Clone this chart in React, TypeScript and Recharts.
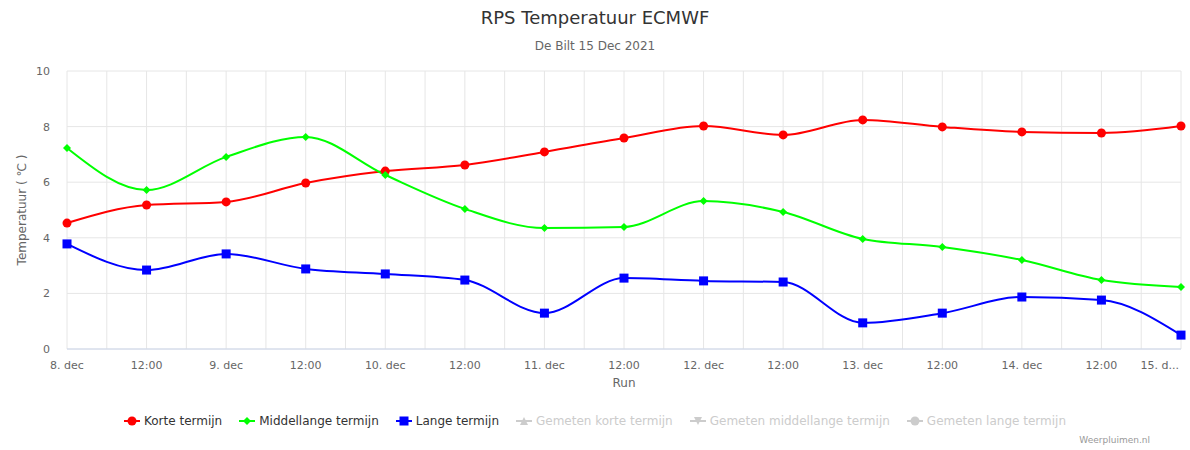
import React from 'react'
import { LineChart, Line, XAxis, YAxis, CartesianGrid } from 'recharts'

// one run every 12 hours, 8 dec 00:00 .. 15 dec 00:00
const runs = [0, 1, 2, 3, 4, 5, 6, 7, 8, 9, 10, 11, 12, 13, 14]
const xLabels = [
  '8. dec', '12:00', '9. dec', '12:00', '10. dec', '12:00', '11. dec', '12:00',
  '12. dec', '12:00', '13. dec', '12:00', '14. dec', '12:00', '15. d...',
]
const korte = [4.53, 5.18, 5.29, 5.97, 6.4, 6.62, 7.09, 7.59, 8.02, 7.7, 8.24, 7.99, 7.81, 7.77, 8.02]
const middellange = [7.23, 5.72, 6.91, 7.63, 6.26, 5.04, 4.35, 4.39, 5.32, 4.93, 3.96, 3.67, 3.2, 2.48, 2.23]
const lange = [3.78, 2.84, 3.42, 2.88, 2.7, 2.48, 1.29, 2.55, 2.45, 2.41, 0.94, 1.29, 1.87, 1.76, 0.5]
const yTicks = [0, 2, 4, 6, 8, 10]
const xTicks = [
  0, 0.5, 1, 1.5, 2, 2.5, 3, 3.5, 4, 4.5, 5, 5.5, 6, 6.5, 7,
  7.5, 8, 8.5, 9, 9.5, 10, 10.5, 11, 11.5, 12, 12.5, 13, 13.5, 14,
]

const legendItems = [
  { name: 'Korte termijn', color: '#ff0000', marker: 'circle', hidden: false },
  { name: 'Middellange termijn', color: '#00ff00', marker: 'diamond', hidden: false },
  { name: 'Lange termijn', color: '#0000ff', marker: 'square', hidden: false },
  { name: 'Gemeten korte termijn', color: '#cccccc', marker: 'triangle', hidden: true },
  { name: 'Gemeten middellange termijn', color: '#cccccc', marker: 'triangle-down', hidden: true },
  { name: 'Gemeten lange termijn', color: '#cccccc', marker: 'circle', hidden: true },
]

const data = runs.map((x, i) => ({
  x,
  korte: korte[i],
  middellange: middellange[i],
  lange: lange[i],
}))

const FONT = '"DejaVu Sans", Verdana, sans-serif'

function markerShape(type: string, cx: number, cy: number, color: string, key?: string) {
  if (type === 'circle') return <circle key={key} cx={cx} cy={cy} r={4.5} fill={color} />
  if (type === 'diamond')
    return <path key={key} d={`M${cx} ${cy - 4}L${cx + 4} ${cy}L${cx} ${cy + 4}L${cx - 4} ${cy}Z`} fill={color} />
  if (type === 'square') return <rect key={key} x={cx - 4.5} y={cy - 4.5} width={9} height={9} fill={color} />
  if (type === 'triangle')
    return <path key={key} d={`M${cx} ${cy - 4}L${cx + 4} ${cy + 4}L${cx - 4} ${cy + 4}Z`} fill={color} />
  return <path key={key} d={`M${cx - 4} ${cy - 4}L${cx + 4} ${cy - 4}L${cx} ${cy + 4}Z`} fill={color} />
}

const makeDot = (type: string, color: string) => (props: any) =>
  markerShape(type, props.cx, props.cy, color, `${type}-${props.index}`)

function XTick(props: any) {
  const { x, y, payload } = props
  const v = payload.value
  if (!Number.isInteger(v)) return <g />
  const last = v === runs[runs.length - 1]
  return (
    <text
      x={last ? x - 2 : x}
      y={y + 20}
      textAnchor={last ? 'end' : 'middle'}
      fill="#666666"
      fontSize={11}
      fontFamily={FONT}
    >
      {xLabels[v]}
    </text>
  )
}

function Legend() {
  return (
    <div
      style={{
        position: 'absolute',
        top: 414,
        left: 0,
        width: 1190,
        display: 'flex',
        justifyContent: 'center',
        gap: 17,
        fontFamily: FONT,
        fontSize: 12,
      }}
    >
      {legendItems.map((it) => (
        <div key={it.name} style={{ display: 'flex', alignItems: 'center', color: it.hidden ? '#cccccc' : '#333333' }}>
          <svg width={16} height={12} style={{ marginRight: 4 }}>
            <line x1={0} y1={6} x2={16} y2={6} stroke={it.color} strokeWidth={2} />
            {markerShape(it.marker, 8, 6, it.color)}
          </svg>
          <span>{it.name}</span>
        </div>
      ))}
    </div>
  )
}

export default function App() {
  return (
    <div style={{ position: 'absolute', left: 0, top: 0, width: 1190, height: 450, background: '#fff' }}>
      <div
        style={{
          position: 'absolute', top: 7, left: 0, width: 1190, textAlign: 'center',
          fontFamily: FONT, fontSize: 18, color: '#333333',
        }}
      >
        RPS Temperatuur ECMWF
      </div>
      <div
        style={{
          position: 'absolute', top: 39, left: 0, width: 1190, textAlign: 'center',
          fontFamily: FONT, fontSize: 12, color: '#666666',
        }}
      >
        De Bilt 15 Dec 2021
      </div>
      <LineChart
        width={1190}
        height={450}
        data={data}
        margin={{ top: 71, right: 9, left: 0, bottom: 0 }}
        style={{ fontFamily: FONT }}
      >
        <CartesianGrid stroke="#e6e6e6" />
        <XAxis
          type="number"
          dataKey="x"
          domain={[0, 14]}
          ticks={xTicks}
          interval={0}
          height={101}
          tickLine={false}
          tickSize={0}
          tickMargin={0}
          stroke="#ccd6eb"
          tick={<XTick />}
          label={(p: any) => {
            const vb = p.viewBox
            return (
              <text x={vb.x + vb.width / 2} y={vb.y + 38} textAnchor="middle" fill="#666666" fontSize={12} fontFamily={FONT}>
                Run
              </text>
            )
          }}
        />
        <YAxis
          domain={[0, 10]}
          ticks={yTicks}
          width={67}
          axisLine={false}
          tickLine={false}
          tickSize={0}
          tickMargin={17}
          tick={{ fill: '#666666', fontSize: 11, fontFamily: FONT }}
          label={(p: any) => {
            const vb = p.viewBox
            const cx = vb.x + 26
            const cy = vb.y + vb.height / 2
            return (
              <text x={cx} y={cy} transform={`rotate(-90 ${cx} ${cy})`} textAnchor="middle" fill="#666666" fontSize={12} fontFamily={FONT}>
                Temperatuur ( ℃ )
              </text>
            )
          }}
        />
        <Line type="monotone" dataKey="korte" stroke="#ff0000" strokeWidth={2} dot={makeDot('circle', '#ff0000')} activeDot={false} isAnimationActive={false} />
        <Line type="monotone" dataKey="middellange" stroke="#00ff00" strokeWidth={2} dot={makeDot('diamond', '#00ff00')} activeDot={false} isAnimationActive={false} />
        <Line type="monotone" dataKey="lange" stroke="#0000ff" strokeWidth={2} dot={makeDot('square', '#0000ff')} activeDot={false} isAnimationActive={false} />
      </LineChart>
      <Legend />
      <div
        style={{
          position: 'absolute', top: 435, right: 40, fontFamily: FONT, fontSize: 9, color: '#999999',
        }}
      >
        Weerpluimen.nl
      </div>
    </div>
  )
}
